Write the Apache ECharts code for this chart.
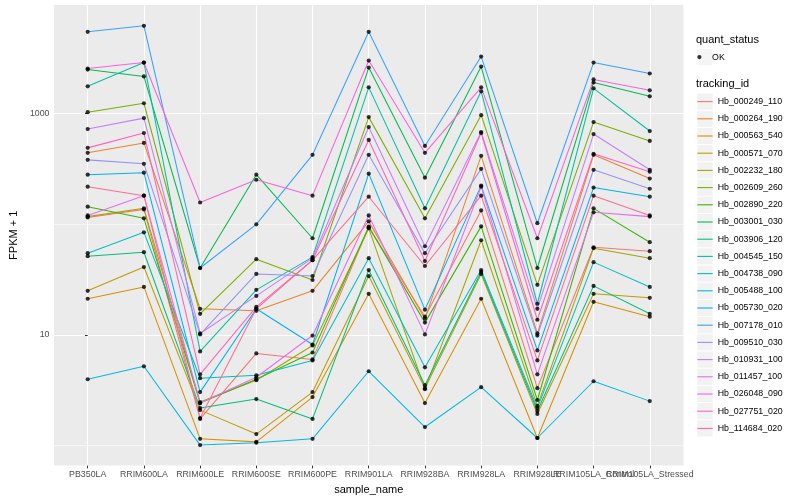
<!DOCTYPE html>
<html>
<head>
<meta charset="utf-8">
<script src="https://cdn.jsdelivr.net/npm/echarts@6/dist/echarts.min.js"></script>
<style>html,body{margin:0;padding:0;background:#fff}#c{width:800px;height:500px}</style>
</head>
<body>
<div id="c"></div>
<script>
// ---- data (FPKM + 1) ----
const categories = ['PB350LA','RRIM600LA','RRIM600LE','RRIM600SE','RRIM600PE','RRIM901LA','RRIM928BA','RRIM928LA','RRIM928LE','RRIM105LA_Control','RRIM105LA_Stressed'];
const trackingIds = ['Hb_000249_110','Hb_000264_190','Hb_000563_540','Hb_000571_070','Hb_002232_180','Hb_002609_260','Hb_002890_220','Hb_003001_030','Hb_003906_120','Hb_004545_150','Hb_004738_090','Hb_005488_100','Hb_005730_020','Hb_007178_010','Hb_009510_030','Hb_010931_100','Hb_011457_100','Hb_026048_090','Hb_027751_020','Hb_114684_020'];
const palette = ['#F8766D','#EA8331','#D89000','#C09B00','#A3A500','#7CAE00','#39B600','#00BB4E','#00BF7D','#00C1A3','#00BFC4','#00BAE0','#00B0F6','#35A2FF','#9590FF','#C77CFF','#E76BF3','#FA62DB','#FF62BC','#FF6C91'];
const yMajorTicks = [10, 1000];
const yMinorTicks = [1, 100];

const v_000249_110 = [115, 136, 1.74, 6.80, 6.00, 93.6, 14.6, 133, 3.30, 61.9, 57.0];
const v_000264_190 = [441, 542, 17.2, 16.5, 25.0, 106, 14.0, 414, 10.3, 423, 258];
const v_000563_540 = [21.2, 27.1, 1.15, 1.08, 2.74, 23.5, 2.42, 21.2, 1.17, 19.9, 14.6];
const v_000571_070 = [25.0, 41.0, 2.09, 1.27, 3.04, 34.0, 3.30, 35.5, 1.93, 23.5, 21.6];
const v_002232_180 = [117, 139, 2.47, 3.89, 8.02, 91.7, 3.23, 71.6, 2.28, 60.7, 49.3];
const v_002609_260 = [1028, 1237, 15.5, 48.3, 31.3, 927, 113, 966, 28.3, 836, 565];
const v_002890_220 = [144, 113, 2.42, 3.97, 6.93, 95.0, 12.9, 95.5, 2.58, 139, 68.7];
const v_003001_030 = [2495, 2161, 40.2, 280, 74.6, 2600, 263, 2655, 40.2, 1908, 1429];
const v_003906_120 = [51.4, 55.8, 2.18, 2.63, 1.74, 38.5, 3.51, 37.0, 2.05, 27.7, 15.5];
const v_004545_150 = [1758, 2884, 7.08, 25.5, 50.4, 1722, 139, 1585, 19.1, 1687, 694];
const v_004738_090 = [54.7, 84.4, 4.06, 4.31, 5.88, 49.3, 5.09, 38.5, 2.18, 45.4, 27.1];
const v_005488_100 = [3.97, 5.20, 1.01, 1.06, 1.15, 4.69, 1.47, 3.37, 1.17, 3.81, 2.52];
const v_005730_020 = [280, 292, 3.04, 17.2, 8.18, 286, 16.9, 223, 7.23, 214, 177];
const v_007178_010 = [5470, 6190, 40.2, 99.6, 423, 5470, 509, 3266, 102, 2884, 2298];
const v_009510_030 = [381, 351, 10.1, 35.5, 34.0, 423, 54.7, 316, 9.86, 310, 209];
const v_010931_100 = [723, 908, 10.3, 22.5, 49.3, 754, 63.2, 680, 17.2, 652, 310];
const v_011457_100 = [120, 181, 2.42, 4.14, 9.86, 120, 10.1, 218, 4.40, 128, 117];
const v_026048_090 = [2548, 2884, 157, 252, 181, 3006, 441, 1722, 74.6, 2031, 1618];
const v_027751_020 = [489, 666, 4.40, 17.9, 47.3, 577, 46.4, 666, 13.7, 432, 298];
const v_114684_020 = [218, 181, 1.77, 17.2, 47.3, 177, 41.9, 181, 5.88, 181, 120];

const seriesValues = [v_000249_110, v_000264_190, v_000563_540, v_000571_070, v_002232_180,
  v_002609_260, v_002890_220, v_003001_030, v_003906_120, v_004545_150, v_004738_090,
  v_005488_100, v_005730_020, v_007178_010, v_009510_030, v_010931_100, v_011457_100,
  v_026048_090, v_027751_020, v_114684_020];

// ---- chart ----
const FONT = '"Liberation Sans", Arial, Helvetica, sans-serif';
const catIdx = categories.map((c, i) => i);
const controlIdx = categories.indexOf('RRIM105LA_Control');
const mainLabelIdx = catIdx.filter(i => i !== controlIdx);

const lineSeries = trackingIds.map((id, k) => ({
  name: id,
  type: 'line',
  xAxisIndex: 0,
  data: categories.map((c, i) => [i, seriesValues[k][i]]),
  showSymbol: false,
  symbol: 'none',
  lineStyle: { color: palette[k], width: 1.05 },
  itemStyle: { color: palette[k] },
  z: 2,
  silent: true,
  emphasis: { disabled: true }
}));

const pointData = [];
seriesValues.forEach(vals => vals.forEach((v, i) => pointData.push([i, v])));

const pointSeries = {
  name: 'OK',
  type: 'scatter',
  xAxisIndex: 0,
  data: pointData,
  symbol: 'circle',
  symbolSize: 4.2,
  itemStyle: { color: '#000' },
  z: 3,
  silent: true,
  emphasis: { disabled: true },
  markLine: {
    silent: true,
    symbol: 'none',
    z: 1,
    label: { show: false },
    lineStyle: { color: '#fff', width: 0.55, type: 'solid' },
    emphasis: { disabled: true },
    data: yMinorTicks.map(v => ({ yAxis: v }))
  }
};

const xLabelStyle = { formatter: v => categories[Math.round(v)], fontSize: 8.8, color: '#4D4D4D', margin: 4.5,
  hideOverlap: false, showMinLabel: true, showMaxLabel: true, fontFamily: FONT };

const chart = echarts.init(document.getElementById('c'), null, { renderer: 'canvas' });
chart.setOption({
  animation: false,
  backgroundColor: '#ffffff',
  textStyle: { fontFamily: FONT },
  grid: { left: 44.8, right: 116.5, top: 5, bottom: 31, show: true, backgroundColor: '#EBEBEB', borderWidth: 0 },
  xAxis: [{
    type: 'value', min: -0.6, max: 10.6, position: 'bottom',
    name: 'sample_name', nameLocation: 'middle', nameGap: 15,
    nameTextStyle: { fontSize: 11, color: '#000', fontFamily: FONT },
    axisLine: { show: false },
    axisTick: { show: true, length: 2.75, customValues: catIdx, lineStyle: { color: '#333333', width: 1 } },
    axisLabel: Object.assign({ customValues: mainLabelIdx }, xLabelStyle),
    splitLine: { show: true, lineStyle: { color: '#ffffff', width: 1.1 } }
  }, {
    type: 'value', min: -0.6, max: 10.6, position: 'bottom', offset: 0,
    axisLine: { show: false },
    axisTick: { show: false },
    axisLabel: Object.assign({ customValues: [controlIdx] }, xLabelStyle),
    splitLine: { show: false }
  }],
  yAxis: {
    type: 'log', logBase: 10, min: 0.659, max: 9550,
    name: 'FPKM + 1', nameLocation: 'middle', nameGap: 27,
    nameTextStyle: { fontSize: 11, color: '#000', fontFamily: FONT },
    axisLine: { show: false },
    axisTick: { show: true, length: 2.75, customValues: yMajorTicks, lineStyle: { color: '#333333', width: 1 } },
    axisLabel: { customValues: yMajorTicks, formatter: v => String(Math.round(v)), fontSize: 8.8, color: '#4D4D4D', margin: 4.5,
      showMinLabel: true, showMaxLabel: true, fontFamily: FONT },
    splitLine: { show: true, lineStyle: { color: '#ffffff', width: 1.1 } },
    minorTick: { show: false },
    minorSplitLine: { show: false }
  },
  legend: [
    { id: 'okBg', orient: 'vertical', left: 697.3, top: 49, padding: 0, itemWidth: 15.4, itemHeight: 16.2, itemGap: 1,
      icon: 'rect', selectedMode: false, z: 3, formatter: () => '',
      data: [{ name: 'OK', itemStyle: { color: '#F2F2F2', borderWidth: 0 } }] },
    { id: 'ok', orient: 'vertical', left: 697.3, top: 49, padding: 0, itemWidth: 15.4, itemHeight: 4.2, itemGap: 1,
      icon: 'circle', selectedMode: false, z: 4,
      textStyle: { color: '#000', fontSize: 8.8, lineHeight: 16.2, fontFamily: FONT },
      data: [{ name: 'OK', itemStyle: { color: '#000', borderWidth: 0 } }] },
    { id: 'keysBg', orient: 'vertical', left: 697.3, top: 93.5, padding: 0, itemWidth: 15.4, itemHeight: 16.2, itemGap: 1,
      icon: 'rect', selectedMode: false, z: 3, formatter: () => '',
      data: trackingIds.map(n => ({ name: n, itemStyle: { color: '#F2F2F2', borderWidth: 0 } })) },
    { id: 'keys', orient: 'vertical', left: 697.3, top: 93.5, padding: 0, itemWidth: 15.4, itemHeight: 1.1, itemGap: 1,
      icon: 'rect', selectedMode: false, z: 4,
      textStyle: { color: '#000', fontSize: 8.8, lineHeight: 16.2, fontFamily: FONT },
      data: trackingIds.map((n, k) => ({ name: n, itemStyle: { color: palette[k], borderWidth: 0 } })) }
  ],
  graphic: [
    { type: 'text', left: 696, top: 34.5, silent: true, style: { text: 'quant_status', fontSize: 11, fill: '#000', fontFamily: FONT } },
    { type: 'text', left: 696, top: 78, silent: true, style: { text: 'tracking_id', fontSize: 11, fill: '#000', fontFamily: FONT } }
  ],
  series: lineSeries.concat([pointSeries])
});
</script>
</body>
</html>
